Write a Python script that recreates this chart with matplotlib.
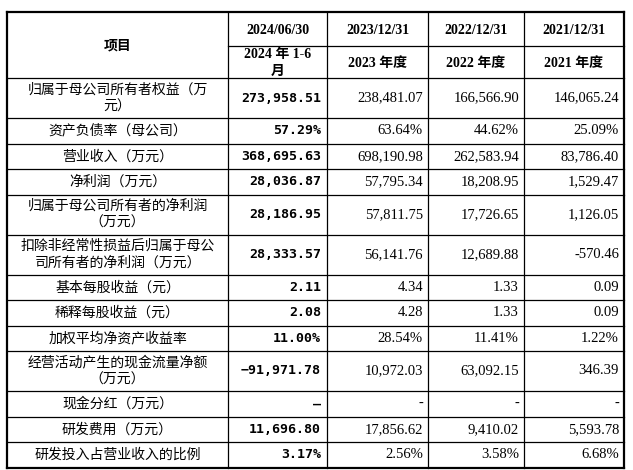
import matplotlib
matplotlib.use("Agg")
import matplotlib.pyplot as plt

items = ["归属于母公司所有者权益（万\n元）", "资产负债率（母公司）", "营业收入（万元）", "净利润（万元）",
         "归属于母公司所有者的净利润\n（万元）", "扣除非经常性损益后归属于母公\n司所有者的净利润（万元）",
         "基本每股收益（元）", "稀释每股收益（元）", "加权平均净资产收益率",
         "经营活动产生的现金流量净额\n（万元）", "现金分红（万元）", "研发费用（万元）", "研发投入占营业收入的比例"]
h2024 = ["273,958.51", "57.29%", "368,695.63", "28,036.87", "28,186.95", "28,333.57",
         "2.11", "2.08", "11.00%", "−91,971.78", "–", "11,696.80", "3.17%"]
h2023 = ["238,481.07", "63.64%", "698,190.98", "57,795.34", "57,811.75", "56,141.76",
         "4.34", "4.28", "28.54%", "10,972.03", "-", "17,856.62", "2.56%"]
h2022 = ["166,566.90", "44.62%", "262,583.94", "18,208.95", "17,726.65", "12,689.88",
         "1.33", "1.33", "11.41%", "63,092.15", "-", "9,410.02", "3.58%"]
h2021 = ["146,065.24", "25.09%", "83,786.40", "1,529.47", "1,126.05", "-570.46",
         "0.09", "0.09", "1.22%", "346.39", "-", "5,593.78", "6.68%"]
dates = ["2024/06/30", "2023/12/31", "2022/12/31", "2021/12/31"]
periods = ["2024 年 1-6\n月", "2023 年度", "2022 年度", "2021 年度"]

cols = [7, 228, 327, 428, 524, 624]
top, mid, head = 12, 46, 78
heights = [40, 25.5, 25.5, 25.5, 40, 40, 25.5, 25.5, 25.5, 40, 25.5, 25.5, 25.5]

cjk = ["Noto Sans CJK SC", "DejaVu Sans"]
serif = ["Liberation Serif", "Noto Sans CJK SC"]
boldf = ["DejaVu Sans Mono", "Noto Sans CJK SC"]

fig = plt.figure(figsize=(6.33, 4.70), dpi=100)
ax = fig.add_axes([0, 0, 1, 1])
ax.set_xlim(0, 633)
ax.set_ylim(470, 0)
ax.axis("off")

ys = [head]
for h in heights:
    ys.append(ys[-1] + h)
bottom = ys[-1]

lw = 0.9
for x in cols:
    ax.plot([x, x], [top, bottom], color="black", lw=lw if x not in (cols[0], cols[-1]) else 1.6)
ax.plot([cols[0], cols[-1]], [top, top], color="black", lw=1.6)
ax.plot([cols[0], cols[-1]], [bottom, bottom], color="black", lw=1.6)
ax.plot([cols[1], cols[-1]], [mid, mid], color="black", lw=lw)
for y in ys[:-1]:
    ax.plot([cols[0], cols[-1]], [y, y], color="black", lw=lw)

ax.text((cols[0] + cols[1]) / 2, (top + head) / 2, "项目", ha="center", va="center",
        family=cjk, fontsize=10, fontweight="bold")
for i in range(4):
    cx = (cols[i + 1] + cols[i + 2]) / 2
    ax.text(cx, (top + mid) / 2 + 1, dates[i], ha="center", va="center",
            family=serif, fontsize=10, fontweight="bold")
    ax.text(cx, (mid + head) / 2 + 1, periods[i], ha="center", va="center",
            family=serif, fontsize=10, fontweight="bold", linespacing=1.35)

for r, name in enumerate(items):
    cy = (ys[r] + ys[r + 1]) / 2
    ax.text((cols[0] + cols[1]) / 2, cy, name, ha="center", va="center",
            family=cjk, fontsize=10, linespacing=1.25)
    ax.text(cols[2] - 6, cy, h2024[r], ha="right", va="center",
            family=boldf, fontsize=9.5, fontweight="bold")
    for j, vals in enumerate([h2023, h2022, h2021]):
        ax.text(cols[j + 3] - 5, cy, vals[r], ha="right", va="center",
                family=serif, fontsize=10.5)

fig.savefig("out.png", dpi=100)
